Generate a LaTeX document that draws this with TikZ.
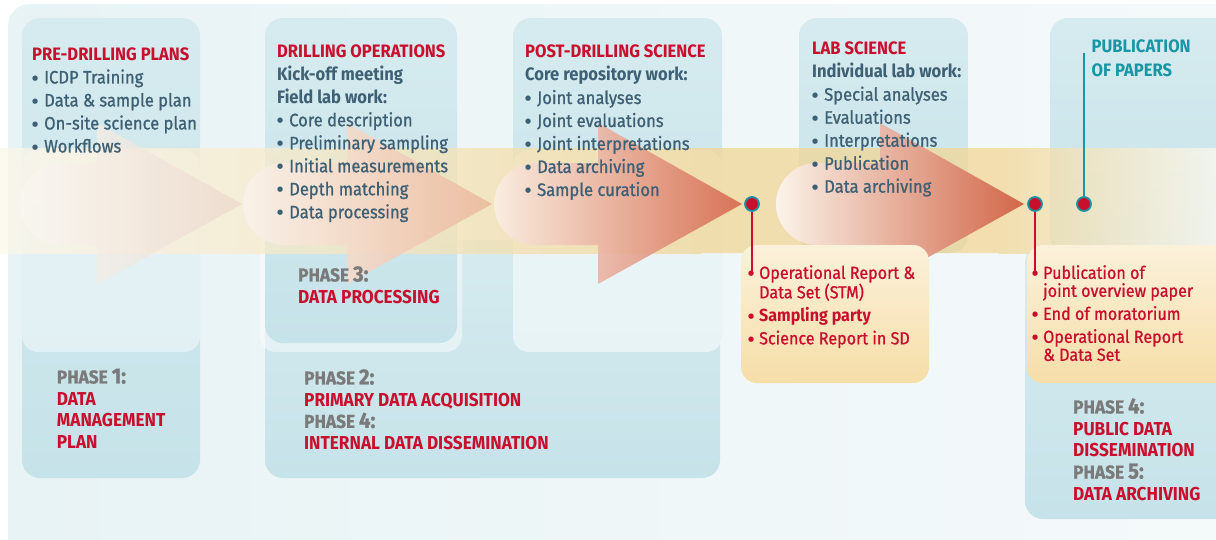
\documentclass[tikz,border=0pt]{standalone}
\usepackage{fontspec}
\setmainfont{Fira Sans}[FakeStretch=0.92]
\newfontfamily\medf{Fira Sans}[FakeStretch=0.92, FakeBold=1.0]
\newfontfamily\dvf{DejaVu Sans}
\definecolor{redc}{RGB}{200,16,46}
\definecolor{slate}{RGB}{62,96,117}
\definecolor{grayc}{RGB}{122,122,122}
\definecolor{tealc}{RGB}{24,150,166}
\definecolor{bgc}{RGB}{232,243,245}
\definecolor{boxtop}{RGB}{214,235,239}
\definecolor{boxbot}{RGB}{198,227,233}
\definecolor{bandc}{RGB}{242,214,150}
\definecolor{obtop}{RGB}{251,241,218}
\definecolor{obbot}{RGB}{246,222,168}
\definecolor{aoneL}{RGB}{250,247,243}
\definecolor{aoneR}{RGB}{236,216,204}
\definecolor{atwoL}{RGB}{250,242,234}
\definecolor{atwoR}{RGB}{236,186,158}
\definecolor{athreeL}{RGB}{250,238,228}
\definecolor{athreeR}{RGB}{214,104,78}
\definecolor{afourL}{RGB}{253,246,240}
\definecolor{afourR}{RGB}{207,90,62}
\newcommand{\hb}{\rmfamily\bfseries}
\newcommand{\phaselbl}[1]{{\medf\color{grayc}PHASE \smash{\fontsize{22}{21.7}\selectfont #1:}}}
\newcommand{\bdot}{\smash{\raisebox{3.3pt}{\dvf\fontsize{7}{0}\selectfont ●}}}
\newcommand{\bu}{\makebox[12pt][l]{\bdot}}
\newcommand{\blt}{\makebox[11pt][l]{\bdot}}
\newcommand{\ind}{\hspace*{11pt}}
\tikzset{
 bluebox/.style={top color=boxtop, bottom color=boxbot, rounded corners=18pt},
 orbox/.style={top color=obtop, bottom color=obbot, rounded corners=16pt},
 halo/.style={fill=white, fill opacity=0.45, rounded corners=16pt},
 txt/.style={anchor=north west, inner sep=0pt, align=left, font=\fontsize{18}{23}\selectfont\medf, text=slate},
 lbl/.style={anchor=north west, inner sep=0pt, align=left, font=\fontsize{18.7}{21.7}\selectfont\bfseries, text=redc},
 otxt/.style={anchor=north west, inner sep=0pt, align=left, font=\fontsize{17.5}{18}\selectfont\medf, text=redc},
 dot/.style={circle, fill=redc, draw=tealc, line width=1.8pt, minimum size=14pt, inner sep=0pt},
 arr/.style={opacity=0.9},
}
\begin{document}
\begin{tikzpicture}[x=1pt,y=-1pt]
\useasboundingbox (0,0) rectangle (1216,539);
\fill[white] (0,0) rectangle (1216,539);
\shade[left color=bgc, right color=bgc!45!white, rounded corners=22pt] (8,4) rectangle (1240,560);
% blue boxes
\shade[bluebox] (22,18) rectangle (200,478);
\shade[bluebox] (265,240) rectangle (720,478);
\fill[halo] (260,150) rectangle (462,352);
\shade[bluebox] (265,18) rectangle (457,343);
\shade[bluebox] (513,18) rectangle (722,352);
\fill[halo, fill opacity=0.6] (513,150) rectangle (722,352);
\fill[halo] (22,150) rectangle (200,352);
\shade[bluebox] (799,18) rectangle (968,253);
\shade[bluebox] (1050,18) rectangle (1240,253);
\shade[bluebox] (1025,245) rectangle (1240,519);
% band
\begin{scope}[transparency group, opacity=0.75]
\shade[left color=bandc!20, right color=bandc] (0,148) rectangle (701,253);
\fill[bandc] (699,148) rectangle (1001,253);
\shade[left color=bandc, right color=bandc!15] (999,148) rectangle (1216,253);
\end{scope}
% arrows
\shade[arr, opacity=0.75, left color=aoneL, right color=aoneR] (97,163) -- (61,163) arc[start angle=-90, end angle=-270, radius=41] -- (97,245) -- (97,284) -- (242,204) -- (97,123) -- cycle;
\shade[arr, left color=atwoL, right color=atwoR] (347,163) -- (284,163) arc[start angle=-90, end angle=-270, radius=41] -- (347,245) -- (347,284) -- (492,204) -- (347,123) -- cycle;
\shade[arr, left color=athreeL, right color=athreeR] (598,163) -- (535,163) arc[start angle=-90, end angle=-270, radius=41] -- (598,245) -- (598,284) -- (742,204) -- (598,123) -- cycle;
\shade[arr, left color=afourL, right color=afourR] (880,163) -- (817,163) arc[start angle=-90, end angle=-270, radius=41] -- (880,245) -- (880,284) -- (1024,204) -- (880,123) -- cycle;
% orange boxes
\shade[orbox] (741,245) rectangle (929,383);
\shade[orbox] (1027,245) rectangle (1240,383);
% dots and lines
\node[dot] (d1) at (752,204) {};
\node[dot] (d2) at (1035,204) {};
\node[dot] (d3) at (1084,204) {};
\coordinate (e1) at (752,271);
\coordinate (e2) at (1035,271);
\coordinate (e3) at (1084,53);
\draw[redc, line width=1.3pt] (d1.south) -- (e1);
\draw[redc, line width=1.3pt] (d2.south) -- (e2);
\draw[tealc, line width=1.8pt] (d3.north) -- (e3);
% texts
\node[txt] (t1) at (32,47.5) {{\hb\color{redc}PRE-DRILLING PLANS}\\\bu ICDP Training\\\bu Data \& sample plan\\\bu On-site science plan\\\bu Workflows};
\node[txt] (t2) at (277,44.3) {{\hb\color{redc}DRILLING OPERATIONS}\\{\hb Kick-off meeting}\\{\hb Field lab work:}\\\bu Core description\\\bu Preliminary sampling\\\bu Initial measurements\\\bu Depth matching\\\bu Data processing};
\node[txt] (t3) at (525,45) {{\hb\color{redc}POST-DRILLING SCIENCE}\\{\hb Core repository work:}\\\bu Joint analyses\\\bu Joint evaluations\\\bu Joint interpretations\\\bu Data archiving\\\bu Sample curation};
\node[txt] (t4) at (812,41.7) {{\hb\color{redc}LAB SCIENCE}\\{\hb Individual lab work:}\\\bu Special analyses\\\bu Evaluations\\\bu Interpretations\\\bu Publication\\\bu Data archiving};
\node[txt, text=tealc, font=\fontsize{18}{23.3}\selectfont\bfseries] (t5) at (1091.5,40) {PUBLICATION\\OF PAPERS};
\node[lbl] (p1) at (56.7,370) {\phaselbl{1}\\DATA\\MANAGEMENT\\PLAN};
\node[lbl] (p3) at (298,268) {\phaselbl{3}\\DATA PROCESSING};
\node[lbl] (p2) at (304,371) {\phaselbl{2}\\PRIMARY DATA ACQUISITION\\\phaselbl{4}\\INTERNAL DATA DISSEMINATION};
\node[lbl] (p45) at (1073,400) {\phaselbl{4}\\PUBLIC DATA\\DISSEMINATION\\\phaselbl{5}\\DATA ARCHIVING};
\node[otxt] (o1) at (748,265) {\blt Operational Report \&\\\ind Data Set (STM)\\[5pt]\blt{\hb Sampling party}\\[5pt]\blt Science Report in SD};
\node[otxt] (o2) at (1032,265) {\blt Publication of\\\ind joint overview paper\\[5pt]\blt End of moratorium\\[5pt]\blt Operational Report\\\ind \& Data Set};
\end{tikzpicture}
\end{document}
